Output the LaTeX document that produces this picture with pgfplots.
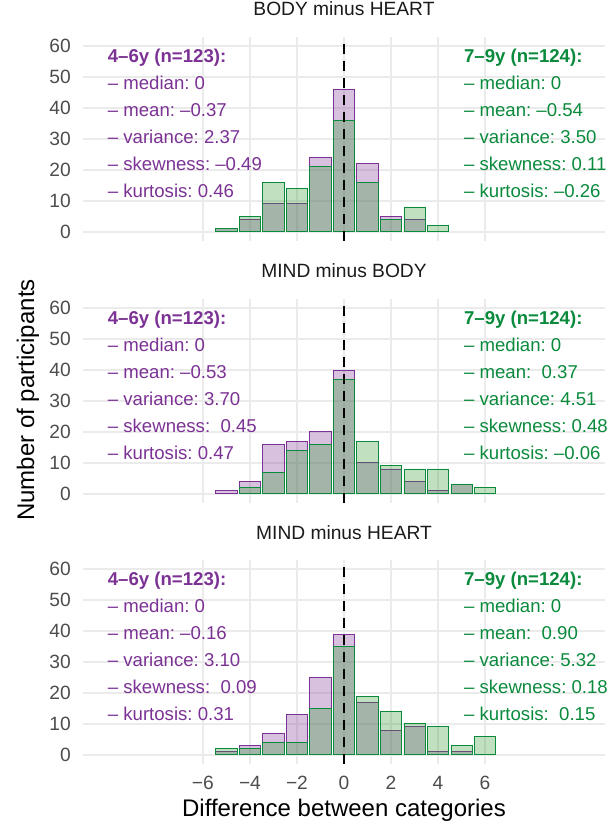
\documentclass[border=0pt]{standalone}
\usepackage{fontspec}
\setmainfont{Liberation Sans}
\usepackage{pgfplots}
\pgfplotsset{compat=1.18}

\definecolor{purp}{HTML}{7B3294}
\definecolor{grnfill}{HTML}{2D982D}
\definecolor{grn}{HTML}{0A8A3C}
\definecolor{gridc}{HTML}{EBEBEB}
\definecolor{tickc}{HTML}{4D4D4D}
\definecolor{titlec}{HTML}{1A1A1A}

\pgfplotsset{
  panel/.style={
    width=522pt, height=204pt, scale only axis, anchor=south west,
    xmin=-11.1, xmax=11.1, ymin=-3, ymax=63,
    xtick={-6,-4,...,6}, ytick={0,10,...,60},
    yticklabels={0,10,20,30,40,50,60},
    grid=major, major grid style={draw=gridc, line width=1.6pt},
    axis line style={draw=none}, major tick length=0pt, tick style={draw=none},
    tick label style={font=\fontsize{19.2}{23}\selectfont, text=tickc},
    yticklabel style={anchor=east, inner sep=0pt, xshift=-12pt},
    xticklabel style={anchor=north, inner sep=0pt, yshift=-12pt},
    clip=false,
    title style={at={(0.5,1)}, anchor=base, yshift=15pt, inner sep=0pt,
      font=\fontsize{19.2}{23}\selectfont, text=titlec},
  },
  young/.style={ybar, bar width=0.9, bar shift=0pt, fill=purp, fill opacity=0.3, draw=purp, line width=0.9pt},
  old/.style={ybar, bar width=0.9, bar shift=0pt, fill=grnfill, fill opacity=0.3, draw=grn, line width=0.9pt},
  zeroline/.style={black, line width=2.8pt, dash pattern=on 10pt off 7pt},
}
\tikzset{ann/.style={anchor=base west, inner sep=0pt, font=\fontsize{18.6}{22}\selectfont}}

% x, colour, header, median, mean, variance, skewness, kurtosis
\newcommand{\statblock}[8]{%
  \node[ann, text=#2, font=\fontsize{18.6}{22}\selectfont\bfseries] at (axis cs:#1,54.9) {#3};
  \node[ann, text=#2] at (axis cs:#1,46.15) {– median: #4};
  \node[ann, text=#2] at (axis cs:#1,37.4) {– mean: #5};
  \node[ann, text=#2] at (axis cs:#1,28.65) {– variance: #6};
  \node[ann, text=#2] at (axis cs:#1,19.9) {– skewness: #7};
  \node[ann, text=#2] at (axis cs:#1,11.15) {– kurtosis: #8};
}

\begin{document}
\frenchspacing
\begin{tikzpicture}
\path[use as bounding box] (0,0) rectangle (609pt,829pt);

% BODY minus HEART
\begin{axis}[panel, at={(83pt,588pt)}, title={BODY minus HEART}, xticklabels={}]
\addplot[young] coordinates {(-5,1) (-4,4) (-3,9) (-2,9) (-1,24) (0,46) (1,22) (2,5) (3,4)};
\addplot[old] coordinates {(-5,1) (-4,5) (-3,16) (-2,14) (-1,21) (0,36) (1,16) (2,4) (3,8) (4,2)};
\addplot[zeroline] coordinates {(0,-3) (0,63)};
\statblock{-10.05}{purp}{4–6y (n=123):}{0}{–0.37}{2.37}{–0.49}{0.46}
\statblock{5.1}{grn}{7–9y (n=124):}{0}{–0.54}{3.50}{0.11}{–0.26}
\end{axis}

% MIND minus BODY
\begin{axis}[panel, at={(83pt,326pt)}, title={MIND minus BODY}, xticklabels={}]
\addplot[young] coordinates {(-5,1) (-4,4) (-3,16) (-2,17) (-1,20) (0,40) (1,10) (2,8) (3,4) (4,1) (5,3)};
\addplot[old] coordinates {(-4,2) (-3,7) (-2,14) (-1,16) (0,37) (1,17) (2,9) (3,8) (4,8) (5,3) (6,2)};
\addplot[zeroline] coordinates {(0,-3) (0,63)};
\statblock{-10.05}{purp}{4–6y (n=123):}{0}{–0.53}{3.70}{\ 0.45}{0.47}
\statblock{5.1}{grn}{7–9y (n=124):}{0}{\ 0.37}{4.51}{0.48}{–0.06}
\end{axis}

% MIND minus HEART
\begin{axis}[panel, at={(83pt,65pt)}, title={MIND minus HEART},
  xticklabels={−6,−4,−2,0,2,4,6}]
\addplot[young] coordinates {(-5,1) (-4,3) (-3,7) (-2,13) (-1,25) (0,39) (1,17) (2,8) (3,9) (4,1) (5,1)};
\addplot[old] coordinates {(-5,2) (-4,2) (-3,4) (-2,4) (-1,15) (0,35) (1,19) (2,14) (3,10) (4,9) (5,3) (6,6)};
\addplot[zeroline] coordinates {(0,-3) (0,63)};
\statblock{-10.05}{purp}{4–6y (n=123):}{0}{–0.16}{3.10}{\ 0.09}{0.31}
\statblock{5.1}{grn}{7–9y (n=124):}{0}{\ 0.90}{5.32}{0.18}{\ 0.15}
\end{axis}

\node[rotate=90, font=\fontsize{24}{28}\selectfont] at (28pt,429pt) {Number of participants};
\node[font=\fontsize{24}{28}\selectfont] at (344pt,19pt) {Difference between categories};
\end{tikzpicture}
\end{document}
